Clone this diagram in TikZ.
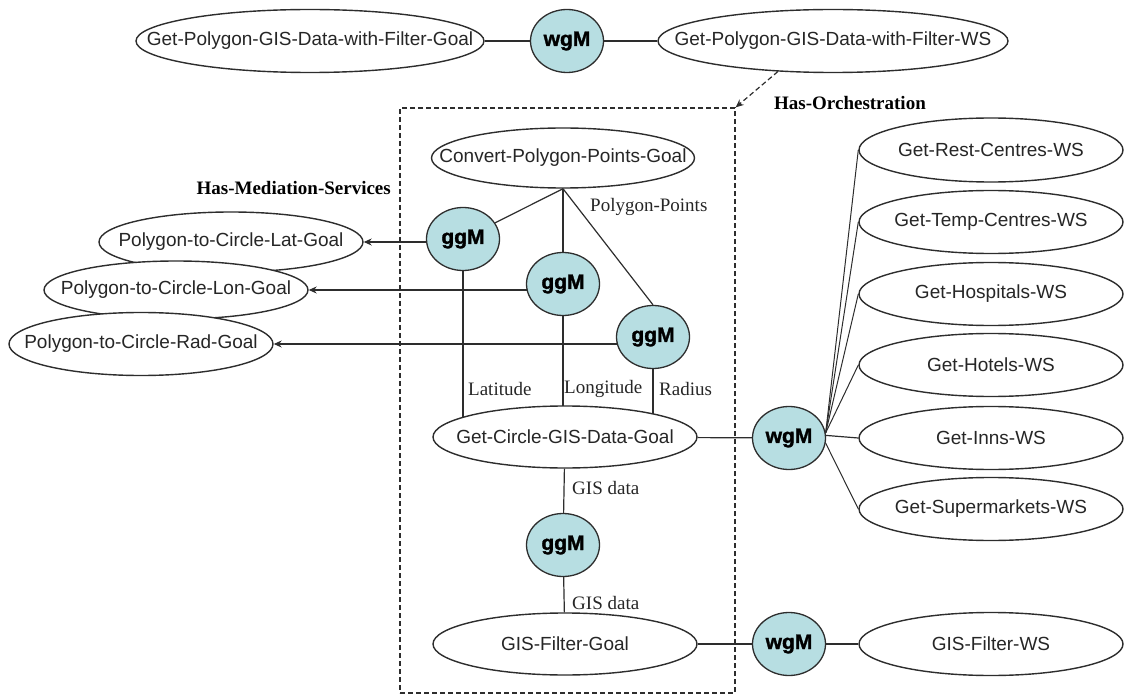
\documentclass[tikz,border=0pt]{standalone}
\usepackage{fontspec}
\setmainfont{Liberation Sans}
\newfontfamily\labelfont{Liberation Serif}
\newfontfamily\heavyfont[FakeBold=1.5]{Liberation Sans Bold}
\usetikzlibrary{shapes.geometric,arrows.meta}
\pgfdeclarelayer{background}
\pgfsetlayers{background,main}
\definecolor{medfill}{RGB}{183,222,226}
\definecolor{ink}{RGB}{45,45,45}
% text that is centred in a node without widening it
\newcommand\nowide[1]{\makebox[0pt]{#1}}
\begin{document}
\begin{tikzpicture}[x=1pt,y=-1pt,
  font=\fontsize{19}{22}\selectfont,
  oval/.style={ellipse, draw=ink, line width=1.4pt, fill=white, inner sep=0pt,
    minimum width=264pt, minimum height=62pt, text=black!85},
  med/.style={ellipse, draw=ink, line width=1.3pt, fill=medfill, inner sep=0pt,
    minimum width=73pt, minimum height=63pt,
    font=\heavyfont\fontsize{21}{24}\selectfont},
  link/.style={draw=ink, line width=1.2pt},
  arr/.style={link, -{Stealth[length=8pt,width=7pt]}},
  lbl/.style={font=\labelfont\fontsize{19}{22}\selectfont, inner sep=0pt, text=black!85},
  rel/.style={font=\labelfont\bfseries\fontsize{19}{22}\selectfont, inner sep=0pt}]
\useasboundingbox (0,0) rectangle (1125,695);

% top level: goal, mediator, web service
\node[oval, minimum width=348pt, minimum height=63pt] (topgoal) at (310,41) {\nowide{Get-Polygon-GIS-Data-with-Filter-Goal}};
\node[med] (wtop) at (567,41) {wgM};
\node[oval, minimum width=350pt, minimum height=63pt] (topws) at (833,41) {\nowide{Get-Polygon-GIS-Data-with-Filter-WS}};

% orchestration frame
\node[draw=ink, dashed, dash pattern=on 5pt off 3pt, line width=1.3pt, inner sep=0pt,
  minimum width=335pt, minimum height=585pt] (orch) at (567.5,400.5) {};
\draw[link, dashed, dash pattern=on 5pt off 3pt, -{Stealth[length=8pt,width=7pt]}] (topws.209) -- (orch.north east);
\node[rel] (horch) at (850,103) {Has-Orchestration};
\node[rel, anchor=east] (hmed) at (391,188) {Has-Mediation-Services};

% goals inside the orchestration
\node[oval, minimum width=263pt, minimum height=60pt] (convert) at (563,158) {\nowide{Convert-Polygon-Points-Goal}};
\node[med] (g1) at (463,239) {ggM};
\node[med] (g2) at (563,284) {ggM};
\node[med] (g3) at (653,337) {ggM};
\node[oval] (circ) at (565,437) {\nowide{Get-Circle-GIS-Data-Goal}};
\node[med] (g4) at (563,545) {ggM};
\node[oval] (filter) at (565,644) {\nowide{GIS-Filter-Goal}};

% mediation services
\node[oval, minimum height=60pt] (lat) at (231,242) {\nowide{Polygon-to-Circle-Lat-Goal}};
\node[oval, minimum height=58pt] (lon) at (176,290) {\nowide{Polygon-to-Circle-Lon-Goal}};
\node[oval, minimum height=63pt] (rad) at (141,344) {\nowide{Polygon-to-Circle-Rad-Goal}};

% web services
\node[med] (w2) at (789,438) {wgM};
\node[med] (w3) at (789,644) {wgM};
\node[oval, minimum height=64pt] (rest) at (991,150) {\nowide{Get-Rest-Centres-WS}};
\node[oval, minimum height=63pt] (temp) at (991,222) {\nowide{Get-Temp-Centres-WS}};
\node[oval, minimum height=63pt] (hosp) at (991,294) {\nowide{Get-Hospitals-WS}};
\node[oval, minimum height=63pt] (hotel) at (991,365) {\nowide{Get-Hotels-WS}};
\node[oval, minimum height=63pt] (inns) at (991,438) {\nowide{Get-Inns-WS}};
\node[oval, minimum height=63pt] (super) at (991,509) {\nowide{Get-Supermarkets-WS}};
\node[oval, minimum height=63pt] (filterws) at (991,644) {\nowide{GIS-Filter-WS}};

% data-flow labels
\node[lbl, anchor=west] (lpp) at (590,207) {Polygon-Points};
\node[lbl, anchor=west] (llat) at (468,389) {Latitude};
\node[lbl, anchor=west] (llon) at (564,389) {Longitude};
\node[lbl, anchor=west] (lrad) at (659,389) {Radius};
\node[lbl, anchor=west] (lgis1) at (572,488) {GIS data};
\node[lbl, anchor=west] (lgis2) at (572,603) {GIS data};

% connectors, hidden under the node fills where they meet
\begin{pgfonlayer}{background}
  \draw[link] (topgoal) -- (wtop) -- (topws);
  \draw[link] (convert.south) -- (g1);
  \draw[link] (convert.south) -- (g2);
  \draw[link] (convert.south) -- (g3.north);
  \draw[link] (g1) -- (g1 |- circ);
  \draw[link] (g2) -- (g2 |- circ);
  \draw[link] (g3) -- (g3 |- circ);
  \draw[arr] (g1 |- lat) -- (lat.east);
  \draw[arr] (g2 |- lon) -- (lon.east);
  \draw[arr] (g3 |- rad) -- (rad.east);
  \draw[link] (circ) -- (g4) -- (filter);
  \draw[link] (circ) -- (w2);
  \draw[link] (filter) -- (w3) -- (filterws);
\end{pgfonlayer}

% fan of web services from the orchestration mediator
\draw[link, line width=1pt] (w2.8) -- (rest.west);
\draw[link, line width=1pt] (w2.8) -- (temp.west);
\draw[link, line width=1pt] (w2.8) -- (hosp.west);
\draw[link, line width=1pt] (w2.8) -- (hotel.west);
\draw[link] (w2.4) -- (inns.west);
\draw[link, line width=1pt] (w2.-8) -- (super.west);
\end{tikzpicture}
\end{document}
